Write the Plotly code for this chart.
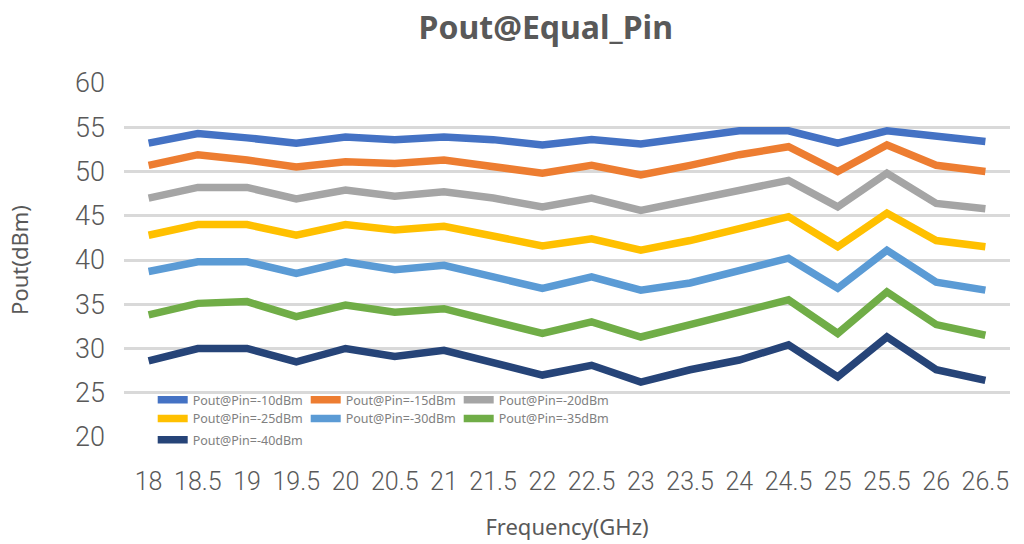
import plotly.graph_objects as go

freq = [18, 18.5, 19, 19.5, 20, 20.5, 21, 21.5, 22, 22.5, 23, 23.5, 24, 24.5, 25, 25.5, 26, 26.5]
freq_labels = ["18", "18.5", "19", "19.5", "20", "20.5", "21", "21.5", "22", "22.5",
               "23", "23.5", "24", "24.5", "25", "25.5", "26", "26.5"]

pin_m10 = [53.2, 54.3, 53.8, 53.2, 53.9, 53.6, 53.9, 53.6, 53.0, 53.6, 53.1, 53.9, 54.6, 54.6, 53.2, 54.6, 53.9, 53.4]
pin_m15 = [50.7, 51.9, 51.3, 50.5, 51.1, 50.9, 51.3, 50.6, 49.8, 50.7, 49.6, 50.7, 51.9, 52.8, 50.0, 53.0, 50.7, 50.0]
pin_m20 = [47.0, 48.2, 48.2, 46.9, 47.9, 47.2, 47.7, 47.0, 46.0, 47.0, 45.6, 46.8, 47.9, 49.0, 46.0, 49.8, 46.4, 45.8]
pin_m25 = [42.8, 44.0, 44.0, 42.8, 44.0, 43.4, 43.8, 42.8, 41.6, 42.4, 41.1, 42.2, 43.6, 44.9, 41.5, 45.3, 42.2, 41.5]
pin_m30 = [38.7, 39.8, 39.8, 38.5, 39.8, 38.9, 39.4, 38.1, 36.8, 38.1, 36.6, 37.4, 38.7, 40.2, 36.8, 41.1, 37.5, 36.6]
pin_m35 = [33.8, 35.1, 35.3, 33.6, 34.9, 34.1, 34.5, 33.2, 31.7, 33.0, 31.3, 32.7, 34.2, 35.5, 31.7, 36.4, 32.7, 31.5]
pin_m40 = [28.6, 30.0, 30.0, 28.5, 30.0, 29.1, 29.8, 28.3, 27.0, 28.1, 26.2, 27.6, 28.7, 30.4, 26.8, 31.3, 27.6, 26.4]

series_names = ["Pout@Pin=-10dBm", "Pout@Pin=-15dBm", "Pout@Pin=-20dBm", "Pout@Pin=-25dBm",
                "Pout@Pin=-30dBm", "Pout@Pin=-35dBm", "Pout@Pin=-40dBm"]
series_values = [pin_m10, pin_m15, pin_m20, pin_m25, pin_m30, pin_m35, pin_m40]
colors = ["#4472C4", "#ED7D31", "#A5A5A5", "#FFC000", "#5B9BD5", "#70AD47", "#264478"]
legend_ids = ["legend", "legend", "legend", "legend2", "legend2", "legend2", "legend3"]

y_ticks = [20, 25, 30, 35, 40, 45, 50, 55, 60]

fig = go.Figure()
for name, vals, col, lg in zip(series_names, series_values, colors, legend_ids):
    fig.add_trace(go.Scatter(x=freq, y=vals, name=name, mode="lines",
                             line=dict(color=col, width=7.5), legend=lg))

x_tick_font = dict(family="Roboto, sans-serif", size=25, color="#595959", weight=300)
y_tick_font = dict(family="Roboto, sans-serif", size=27, color="#595959", weight=300)
legend_font = dict(family="Noto Sans, sans-serif", size=12.5, color="#808080")
leg_common = dict(orientation="h", xanchor="left", yanchor="middle", font=legend_font,
                  bgcolor="rgba(0,0,0,0)", entrywidth=108, entrywidthmode="pixels",
                  itemwidth=30, tracegroupgap=0)

fig.update_layout(
    width=1024, height=544,
    margin=dict(l=124, r=14, t=83, b=107, autoexpand=False),
    paper_bgcolor="white", plot_bgcolor="white",
    title=dict(text="<b>Pout@Equal_Pin</b>", x=0.533, xanchor="center", y=0.9485, yanchor="middle",
               font=dict(family="Noto Sans, sans-serif", size=32, color="#595959")),
    xaxis=dict(range=[17.75, 26.75], tickvals=freq, ticktext=freq_labels, showgrid=False,
               zeroline=False, showline=False, ticks="", tickfont=x_tick_font, tickangle=0,
               ticklabelstandoff=27,
               title=dict(text="Frequency(GHz)", standoff=24,
                          font=dict(family="Noto Sans, sans-serif", size=22, color="#595959"))),
    yaxis=dict(range=[20, 60], tickvals=y_ticks, showgrid=True, gridcolor="#D9D9D9", gridwidth=3,
               zeroline=False, showline=False, ticks="", tickfont=y_tick_font, ticklabelstandoff=18,
               title=dict(text="Pout(dBm)", standoff=40,
                          font=dict(family="Noto Sans, sans-serif", size=22, color="#595959"))),
    legend=dict(x=0.0324, y=0.1045, **leg_common),
    legend2=dict(x=0.0324, y=0.051, **leg_common),
    legend3=dict(x=0.0324, y=-0.0085, **leg_common),
)

fig.write_html("out.html", config={"displayModeBar": False},
               post_script="document.body.style.margin='0px';")
